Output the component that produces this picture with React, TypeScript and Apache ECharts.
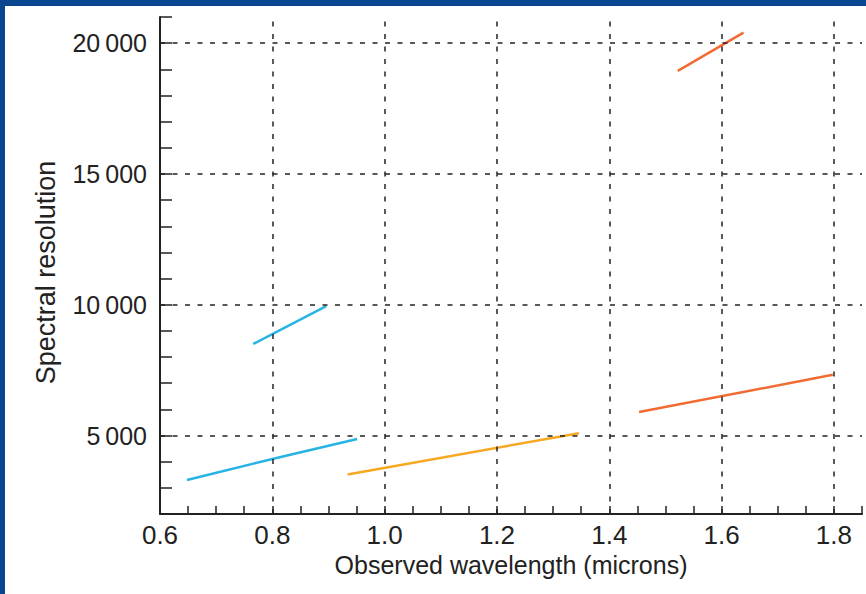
import React, { useEffect, useRef } from "react";
import * as echarts from "echarts";

// Data (x: microns, y: spectral resolution)
const blueLow: [number, number][] = [[0.648, 3300], [0.8, 4100], [0.951, 4870]];
const blueHigh: [number, number][] = [[0.766, 8500], [0.896, 9950]];
const yellowLine: [number, number][] = [[0.934, 3510], [1.346, 5090]];
const redLow: [number, number][] = [[1.453, 5900], [1.798, 7320]];
const redHigh: [number, number][] = [[1.522, 18940], [1.639, 20400]];

const gridX = [0.8, 1.0, 1.2, 1.4, 1.6, 1.8];
const gridY = [5000, 10000, 15000, 20000];

const BLUE = "#27b4e2";
const YELLOW = "#f7a823";
const RED = "#f26b33";
const FONT = "'Liberation Sans', Arial, Helvetica, sans-serif";

export default function App() {
  const ref = useRef<HTMLDivElement>(null);
  useEffect(() => {
    if (!ref.current) return;
    const chart = echarts.init(ref.current, undefined, { renderer: "svg" });
    const lineSeries = (data: [number, number][], color: string) => ({
      type: "line",
      data,
      showSymbol: false,
      symbol: "none",
      z: 3,
      lineStyle: { color, width: 2.5 },
      silent: true,
    });
    chart.setOption({
      animation: false,
      backgroundColor: "#ffffff",
      textStyle: { fontFamily: FONT },
      graphic: [
        { type: "rect", left: 0, top: 0, shape: { width: 866, height: 6 }, style: { fill: "#0a4690" }, z: 10 },
        { type: "rect", left: 0, top: 0, shape: { width: 5, height: 594 }, style: { fill: "#0a4690" }, z: 10 },
      ],
      grid: { left: 160, top: 17, right: 4, bottom: 80, containLabel: false },
      xAxis: {
        type: "value",
        min: 0.6,
        max: 1.85,
        interval: 0.05,
        name: "Observed wavelength (microns)",
        nameLocation: "middle",
        nameGap: 38,
        nameTextStyle: { fontSize: 25, color: "#222", fontFamily: FONT },
        axisLine: { show: true, onZero: false, lineStyle: { color: "#222", width: 2 } },
        axisTick: { show: true, inside: true, length: 8, lineStyle: { color: "#222", width: 1.5 } },
        axisLabel: {
          fontSize: 26,
          color: "#222",
          margin: 8,
          fontFamily: FONT,
          formatter: (v: number) => {
            const k = Math.round(v * 100);
            return k % 20 === 0 ? (k / 100).toFixed(1) : "";
          },
        },
        splitLine: { show: false },
      },
      yAxis: {
        type: "value",
        min: 2000,
        max: 21000,
        interval: 1000,
        name: "Spectral resolution",
        nameLocation: "middle",
        nameGap: 101,
        nameTextStyle: { fontSize: 27, color: "#222", fontFamily: FONT, padding: [0, 14, 0, 0] },
        axisLine: { show: true, onZero: false, lineStyle: { color: "#222", width: 2 } },
        axisTick: { show: true, inside: true, length: 12, lineStyle: { color: "#222", width: 1.5 } },
        axisLabel: {
          fontSize: 25,
          color: "#222",
          margin: 13,
          fontFamily: FONT,
          formatter: (v: number) => {
            const r = Math.round(v);
            if (r % 5000 !== 0) return "";
            const s = String(r);
            return s.slice(0, s.length - 3) + "\u2009" + s.slice(s.length - 3);
          },
        },
        splitLine: { show: false },
      },
      series: [
        {
          type: "line",
          data: [],
          z: 1,
          silent: true,
          markLine: {
            silent: true,
            symbol: ["none", "none"],
            label: { show: false },
            animation: false,
            lineStyle: { color: "#222", width: 1.5, type: [5, 7.5] },
            data: [
              ...gridX.map((x) => ({ xAxis: x })),
              ...gridY.map((y) => ({ yAxis: y })),
            ],
          },
        },
        lineSeries(blueLow, BLUE),
        lineSeries(blueHigh, BLUE),
        lineSeries(yellowLine, YELLOW),
        lineSeries(redLow, RED),
        lineSeries(redHigh, RED),
      ],
    });
    return () => chart.dispose();
  }, []);
  return (
    <div
      ref={ref}
      style={{ position: "absolute", left: 0, top: 0, width: 866, height: 594 }}
    />
  );
}
